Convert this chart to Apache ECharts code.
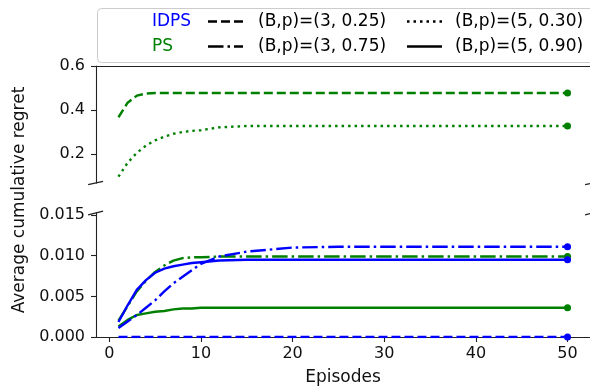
<!DOCTYPE html>
<html>
<head>
<meta charset="utf-8">
<script src="https://cdn.jsdelivr.net/npm/echarts@6/dist/echarts.min.js"></script>
<style>
  html, body { margin: 0; padding: 0; background: #fff; }
  #chart { width: 590px; height: 387px; }
</style>
</head>
<body>
<div id="chart"></div>
<script>
const episodes = [1, 2, 3, 4, 5, 6, 7, 8, 9, 10, 12, 15, 20, 25, 30, 40, 50];

// top panel (large regret)
const psB3p25 = [0.367, 0.433, 0.465, 0.475, 0.477, 0.477, 0.477, 0.477, 0.477, 0.477, 0.477, 0.477, 0.477, 0.477, 0.477, 0.477, 0.477];
const psB5p30 = [0.097, 0.160, 0.205, 0.238, 0.262, 0.279, 0.292, 0.300, 0.305, 0.308, 0.321, 0.327, 0.327, 0.327, 0.327, 0.327, 0.327];

// bottom panel (small regret)
const idpsB3p25 = [0, 0, 0, 0, 0, 0, 0, 0, 0, 0, 0, 0, 0, 0, 0, 0, 0];
const idpsB3p75 = [0.0011, 0.0019, 0.0027, 0.0036, 0.0045, 0.0056, 0.0066, 0.0074, 0.0082, 0.0090, 0.0099, 0.0105, 0.0110, 0.0111, 0.0111, 0.0111, 0.0111];
const psB3p75 = [0.0020, 0.0038, 0.0056, 0.0069, 0.0080, 0.0088, 0.0094, 0.0097, 0.0098, 0.0098, 0.0099, 0.0099, 0.0099, 0.0099, 0.0099, 0.0099, 0.0099];
const idpsB5p90 = [0.00185, 0.0039, 0.0058, 0.0070, 0.0079, 0.0084, 0.0087, 0.0089, 0.0091, 0.0092, 0.0094, 0.0095, 0.0095, 0.0095, 0.0095, 0.0095, 0.0095];
const psB5p90 = [0.0013, 0.0021, 0.0027, 0.0029, 0.0031, 0.0032, 0.0034, 0.0035, 0.0035, 0.0036, 0.0036, 0.0036, 0.0036, 0.0036, 0.0036, 0.0036, 0.0036];

const xTicks = [0, 10, 20, 30, 40, 50];
const yTicksTop = [0.2, 0.4, 0.6];
const yTicksBottom = [0, 0.005, 0.010, 0.015];

const algoNames = ['IDPS', 'PS'];
const configNames = ['(B,p)=(3, 0.25)', '(B,p)=(3, 0.75)', '(B,p)=(5, 0.30)', '(B,p)=(5, 0.90)'];

const BLUE = '#0000ff';
const GREEN = '#008000';
const LW = 2.4;
const DASHES = {
  dashed: [9, 4],
  dashdot: [15.5, 4, 2.5, 4],
  dotted: [2.5, 4],
  solid: 'solid'
};
const FONT = 'DejaVu Sans';

const chart = echarts.init(document.getElementById('chart'), null, { renderer: 'canvas' });

function pairs(vals) {
  return vals.map((v, i) => {
    if (i === vals.length - 1) return { value: [episodes[i], v], symbolSize: 7 };
    return [episodes[i], v];
  });
}

function line(name, vals, color, dash, idx) {
  return {
    name: name,
    type: 'line',
    xAxisIndex: idx,
    yAxisIndex: idx,
    data: pairs(vals),
    symbol: 'circle',
    symbolSize: 0,
    showSymbol: true,
    showAllSymbol: true,
    lineStyle: { color: color, width: LW, type: dash, cap: 'butt' },
    itemStyle: { color: color },
    emphasis: { disabled: true }
  };
}

const axisColor = '#222';
const tickLabel = { fontFamily: FONT, fontSize: 16, color: '#111' };

const xMin = -1.45, xMax = 52.45;

// legend drawn by hand (two colour rows, four line styles)
const legendStyles = [DASHES.dashed, DASHES.dashdot, DASHES.dotted, DASHES.solid];
const legendGraphics = [
  {
    type: 'rect', left: 97, top: 8, z: 50,
    shape: { width: 505, height: 54, r: 4 },
    style: { fill: 'rgba(255,255,255,0.85)', stroke: '#cccccc', lineWidth: 1 }
  }
];
algoNames.forEach((n, r) => {
  legendGraphics.push({
    type: 'text', x: 152, y: 22 + r * 25, z: 51,
    style: { text: n, fill: r === 0 ? BLUE : GREEN, font: '17px ' + FONT, textVerticalAlign: 'middle' }
  });
});
configNames.forEach((n, i) => {
  const col = i < 2 ? 0 : 1;
  const row = i % 2;
  const sx = col === 0 ? 208 : 407;
  const tx = col === 0 ? 258 : 455;
  const y = 21.5 + row * 25;
  const d = legendStyles[i];
  legendGraphics.push({
    type: 'line', z: 51,
    shape: { x1: sx, y1: y, x2: sx + 35, y2: y },
    style: { stroke: '#000', lineWidth: LW, lineDash: d === 'solid' ? null : d }
  });
  legendGraphics.push({
    type: 'text', x: tx, y: y + 0.5, z: 51,
    style: { text: n, fill: '#000', font: '17px ' + FONT, textVerticalAlign: 'middle' }
  });
});

// broken axis marks
const breakMarks = [
  [88.1, 184.7, 103.1, 181.3],
  [88.1, 214.9, 103.1, 211.1],
  [585.1, 184.7, 600.1, 181.3],
  [585.1, 214.9, 600.1, 211.1]
].map(s => ({
  type: 'line', z: 40,
  shape: { x1: s[0], y1: s[1], x2: s[2], y2: s[3] },
  style: { stroke: axisColor, lineWidth: 1.2 }
}));

const yLabel = {
  type: 'text', x: 20, y: 200, rotation: Math.PI / 2, z: 40,
  style: {
    text: 'Average cumulative regret', fill: '#111', font: '17px ' + FONT,
    textAlign: 'center', textVerticalAlign: 'middle'
  }
};

const option = {
  animation: false,
  backgroundColor: '#fff',
  grid: [
    { left: 96, right: -3, top: 66, height: 117 },
    { left: 96, right: -3, top: 213, height: 124 }
  ],
  xAxis: [
    {
      gridIndex: 0, type: 'value', position: 'top', min: xMin, max: xMax,
      axisLine: { show: true, onZero: false, lineStyle: { color: axisColor, width: 1.1 } },
      axisTick: { show: false }, axisLabel: { show: false }, splitLine: { show: false }
    },
    {
      gridIndex: 1, type: 'value', position: 'bottom', min: xMin, max: xMax,
      name: 'Episodes', nameLocation: 'middle', nameGap: 32,
      nameTextStyle: { fontFamily: FONT, fontSize: 17, color: '#111' },
      axisLine: { show: true, onZero: false, lineStyle: { color: axisColor, width: 1.1 } },
      axisTick: { show: true, length: 5, customValues: xTicks, lineStyle: { color: axisColor, width: 1.1 } },
      axisLabel: Object.assign({ customValues: xTicks, margin: 9, formatter: v => String(v) }, tickLabel),
      splitLine: { show: false }
    }
  ],
  yAxis: [
    {
      gridIndex: 0, type: 'value', min: 0.068, max: 0.6,
      axisLine: { show: true, onZero: false, lineStyle: { color: axisColor, width: 1.1 } },
      axisTick: { show: true, length: 5, customValues: yTicksTop, lineStyle: { color: axisColor, width: 1.1 } },
      axisLabel: Object.assign({ customValues: yTicksTop, margin: 11, formatter: v => v.toFixed(1) }, tickLabel),
      splitLine: { show: false }
    },
    {
      gridIndex: 1, type: 'value', min: 0, max: 0.01525,
      axisLine: { show: true, onZero: false, lineStyle: { color: axisColor, width: 1.1 } },
      axisTick: { show: true, length: 5, customValues: yTicksBottom, lineStyle: { color: axisColor, width: 1.1 } },
      axisLabel: Object.assign({ customValues: yTicksBottom, margin: 11, formatter: v => v.toFixed(3) }, tickLabel),
      splitLine: { show: false }
    }
  ],
  series: [
    line('PS (3, 0.25)', psB3p25, GREEN, DASHES.dashed, 0),
    line('PS (5, 0.30)', psB5p30, GREEN, DASHES.dotted, 0),
    line('IDPS (3, 0.25)', idpsB3p25, BLUE, DASHES.dashed, 1),
    line('PS (5, 0.90)', psB5p90, GREEN, DASHES.solid, 1),
    line('PS (3, 0.75)', psB3p75, GREEN, DASHES.dashdot, 1),
    line('IDPS (5, 0.90)', idpsB5p90, BLUE, DASHES.solid, 1),
    line('IDPS (3, 0.75)', idpsB3p75, BLUE, DASHES.dashdot, 1)
  ],
  graphic: legendGraphics.concat(breakMarks, [yLabel])
};

chart.setOption(option);
</script>
</body>
</html>
